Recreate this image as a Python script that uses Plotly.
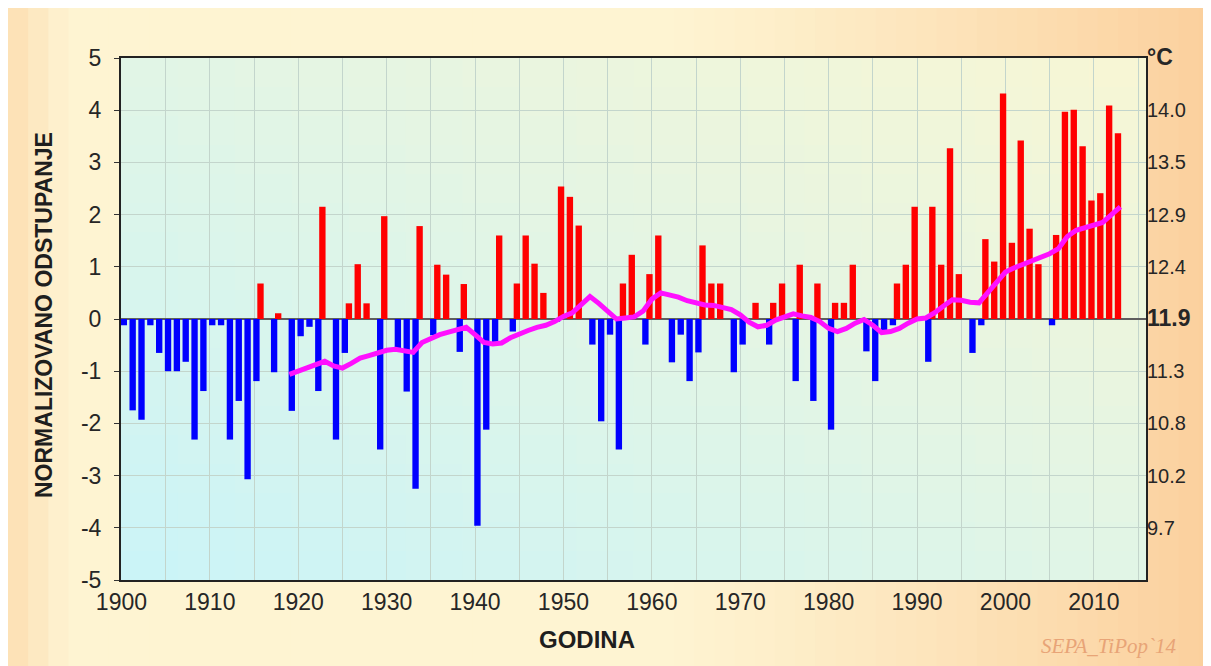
import plotly.graph_objects as go

# years on the category axis
years = list(range(1900, 2014))

# normalized deviation of the mean annual temperature (one value per year)
deviation = [
    -0.12, -1.75, -1.93, -0.12, -0.65, -1.00, -1.00, -0.82, -2.31, -1.38,   # 1900-1909
    -0.12, -0.12, -2.31, -1.57, -3.07, -1.19, 0.68, -1.02, 0.11, -1.76,     # 1910-1919
    -0.33, -0.15, -1.38, 2.15, -2.31, -0.65, 0.30, 1.05, 0.30, -2.50,       # 1920-1929
    1.97, -0.59, -1.39, -3.25, 1.78, -0.31, 1.04, 0.85, -0.63, 0.67,        # 1930-1939
    -3.96, -2.12, -0.46, 1.60, -0.24, 0.68, 1.60, 1.06, 0.50, -0.05,        # 1940-1949
    2.54, 2.34, 1.79, -0.49, -1.96, -0.30, -2.50, 0.68, 1.23, -0.49,        # 1950-1959
    0.86, 1.60, -0.83, -0.30, -1.19, -0.64, 1.41, 0.68, 0.68, -1.02,        # 1960-1969
    -0.49, 0.00, 0.31, -0.49, 0.31, 0.68, -1.19, 1.04, -1.57, 0.68,         # 1970-1979
    -2.12, 0.31, 0.31, 1.04, -0.62, -1.19, -0.25, -0.12, 0.68, 1.04,        # 1980-1989
    2.15, -0.82, 2.15, 1.04, 3.27, 0.86, -0.65, -0.12, 1.53, 1.10,          # 1990-1999
    4.32, 1.46, 3.42, 1.73, 1.05, -0.12, 1.61, 3.97, 4.01, 3.31,            # 2000-2009
    2.27, 2.41, 4.09, 3.56,                                                 # 2010-2013
]

# 20-year running mean (magenta line)
trend_years = list(range(1919, 2014))
trend = [
    -1.06, -1.00, -0.95, -0.88, -0.81, -0.90, -0.94, -0.85, -0.75, -0.70,   # 1919-1928
    -0.64, -0.60, -0.58, -0.62, -0.64, -0.45, -0.37, -0.30, -0.25, -0.20,   # 1929-1938
    -0.16, -0.30, -0.45, -0.48, -0.46, -0.36, -0.28, -0.22, -0.16, -0.12,   # 1939-1948
    -0.05, 0.05, 0.12, 0.28, 0.43, 0.30, 0.16, 0.00, 0.02, 0.04,            # 1949-1958
    0.15, 0.38, 0.50, 0.47, 0.42, 0.35, 0.30, 0.27, 0.26, 0.22,             # 1959-1968
    0.18, 0.08, -0.06, -0.15, -0.12, -0.02, 0.05, 0.10, 0.06, 0.03,         # 1969-1978
    -0.05, -0.18, -0.24, -0.18, -0.08, -0.01, -0.12, -0.26, -0.24, -0.18,   # 1979-1988
    -0.08, 0.00, 0.02, 0.12, 0.25, 0.37, 0.36, 0.32, 0.31, 0.50,            # 1989-1998
    0.72, 0.90, 0.98, 1.05, 1.12, 1.18, 1.25, 1.35, 1.58, 1.70,             # 1999-2008
    1.75, 1.82, 1.85, 2.00, 2.15,                                           # 2009-2013
]

# left axis ticks (plain hyphen as in the original)
left_ticks = [-5, -4, -3, -2, -1, 0, 1, 2, 3, 4, 5]
left_labels = ['-5', '-4', '-3', '-2', '-1', '0', '1', '2', '3', '4', '5']

# right axis: temperature in degC at the same tick positions
celsius_ticks = [-4, -3, -2, -1, 0, 1, 2, 3, 4, 5]
celsius_labels = ['9.7', '10.2', '10.8', '11.3', '11.9', '12.4', '12.9', '13.5', '14.0', '°C']

red_y = [v if v > 0 else None for v in deviation]
blue_y = [v if v < 0 else None for v in deviation]

fig = go.Figure()

# warm years (left slot of the category) and cold years (right slot)
fig.add_trace(go.Bar(x=years, y=red_y, width=0.72, offset=-0.63,
                     marker=dict(color='#FF0000', line=dict(width=0))))
fig.add_trace(go.Bar(x=years, y=blue_y, width=0.72, offset=-0.09,
                     marker=dict(color='#0000FF', line=dict(width=0))))

# running mean
fig.add_trace(go.Scatter(x=trend_years, y=trend, mode='lines', yaxis='y2',
                         line=dict(color='#FF10FF', width=5)))


def mix(c1, c2, t):
    return 'rgb(%d,%d,%d)' % tuple(round(a + (b - a) * t) for a, b in zip(c1, c2))


shapes = []

# paper background: light yellow, turning orange towards the right edge
W, L, R = 1211, 113, 73
light, orange = (254, 244, 210), (251, 207, 156)
n_strips = 60
for i in range(n_strips):
    px0 = W * i / n_strips
    px1 = W * (i + 1) / n_strips
    pc = (px0 + px1) / 2
    t = max(0, min(1, (pc - 650) / 560)) ** 1.2
    t = max(t, 0.6 * max(0, min(1, (60 - pc) / 60)))
    shapes.append(dict(type='rect', xref='paper', yref='paper', layer='below',
                       x0=(px0 - L) / (W - L - R), x1=(px1 - L) / (W - L - R) + 0.002,
                       y0=-0.2, y1=1.12, line=dict(width=0),
                       fillcolor=mix(light, orange, t)))

# plot area background: cyan at bottom left, pale yellow at top right
cyan, yellow = (202, 244, 248), (248, 246, 212)
n = 18
for i in range(n):
    for j in range(n):
        t = ((i + 0.5) / n + (j + 0.5) / n) / 2
        shapes.append(dict(type='rect', xref='paper', yref='paper', layer='below',
                           x0=i / n, x1=(i + 1) / n + 0.002,
                           y0=j / n, y1=(j + 1) / n + 0.002,
                           line=dict(width=0), fillcolor=mix(cyan, yellow, t)))

grid = '#C3D5CC'
sans = 'Liberation Sans, Arial, sans-serif'
tick_font = dict(family=sans, size=23, color='#262626')

fig.update_layout(
    width=1211, height=666,
    margin=dict(l=113, r=73, t=50, b=94),
    paper_bgcolor='#FEF2CF',
    plot_bgcolor='#E0F2EA',
    showlegend=False,
    barmode='overlay',
    shapes=shapes,
    xaxis=dict(
        range=[1899.95, 2015.9], tickmode='linear', tick0=1900, dtick=10,
        showgrid=True, gridcolor=grid, gridwidth=1,
        minor=dict(tick0=1900, dtick=5, showgrid=True, gridcolor=grid, gridwidth=1),
        showline=True, linecolor='#222', linewidth=2, mirror=True,
        ticks='', tickfont=tick_font, zeroline=False,
    ),
    yaxis=dict(
        range=[-5, 5], tickmode='array', tickvals=left_ticks, ticktext=left_labels,
        showgrid=True, gridcolor=grid, gridwidth=1,
        showline=True, linecolor='#222', linewidth=2, mirror=True,
        ticks='outside', ticklen=5, tickcolor='#333', tickfont=tick_font,
        ticklabelstandoff=8,
        zeroline=True, zerolinecolor='#5E5E5E', zerolinewidth=2,
    ),
    yaxis2=dict(
        overlaying='y', side='right', range=[-5, 5],
        tickmode='array', tickvals=celsius_ticks,
        ticktext=['<b style="font-size:23px">%s</b>' % s if s in ('11.9', '°C') else s
                  for s in celsius_labels],
        tickfont=dict(family=sans, size=20, color='#262626'),
        showgrid=False, zeroline=False, ticks='',
    ),
    annotations=[
        dict(text='<b>NORMALIZOVANO ODSTUPANJE</b>', textangle=-90,
             xref='paper', yref='paper', x=(36 - 113) / 1025, y=(572 - 307) / 522,
             xanchor='center', yanchor='middle', showarrow=False,
             font=dict(family=sans, size=23, color='#1E1E1E')),
        dict(text='<b>GODINA</b>', xref='paper', yref='paper',
             x=(579 - 113) / 1025, y=(572 - 631) / 522,
             xanchor='center', yanchor='middle', showarrow=False,
             font=dict(family=sans, size=24, color='#1E1E1E')),
        dict(text="<i>SEPA_TiPop`14</i>", xref='paper', yref='paper',
             x=(1100 - 113) / 1025, y=(572 - 638) / 522,
             xanchor='center', yanchor='middle', showarrow=False,
             font=dict(family='Liberation Serif, Times New Roman, serif', size=21,
                       color='#E8A477')),
    ],
)

fig.write_html("out.html")
